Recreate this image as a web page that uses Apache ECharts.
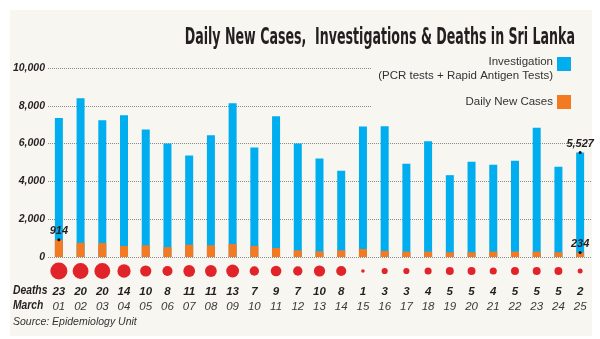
<!DOCTYPE html>
<html>
<head>
<meta charset="utf-8">
<script src="https://cdn.jsdelivr.net/npm/echarts@6/dist/echarts.min.js"></script>
<style>
  html, body { margin: 0; padding: 0; background: #ffffff; }
  #chart { width: 600px; height: 339px; }
</style>
</head>
<body>
<div id="chart"></div>
<script>
// March days
const days = ['01','02','03','04','05','06','07','08','09','10','11','12','13',
              '14','15','16','17','18','19','20','21','22','23','24','25'];
// PCR + rapid antigen tests per day
const investigations = [7350, 8400, 7230, 7500, 6750, 6000, 5370, 6440, 8140, 5800,
                        7450, 6000, 5210, 4570, 6900, 6920, 4930, 6120, 4330, 5040,
                        4880, 5090, 6840, 4770, 5527];
// Daily new cases
const newCases = [914, 750, 740, 580, 620, 520, 650, 620, 690, 585,
                  480, 355, 300, 355, 425, 320, 285, 285, 250, 250,
                  285, 285, 285, 250, 234];
// Deaths per day
const deaths = [23, 20, 20, 14, 10, 8, 11, 11, 13, 7, 9, 7, 10, 8, 1,
                3, 3, 4, 5, 5, 4, 5, 5, 5, 2];
const yTicks = [0, 2000, 4000, 6000, 8000, 10000];

// Values called out on the chart: [day index, which series]
const callouts = [[0, 'cases'], [24, 'tests'], [24, 'cases']];

const BLUE = '#00adef';
const ORANGE = '#f37a21';
const RED = '#e1232a';
const PANEL = '#f8f6f1';
const INK = '#231f20';
const FONT = 'Liberation Sans, Arial, sans-serif';

const chart = echarts.init(document.getElementById('chart'), null, { renderer: 'canvas' });

const calloutData = callouts.map(([i, s]) => [i, s === 'cases' ? newCases[i] : investigations[i]]);

chart.setOption({
  animation: false,
  backgroundColor: '#ffffff',
  grid: [
    { left: 48, right: 9, top: 68, bottom: 82 },
    { left: 48, right: 9, top: 262, height: 18 }
  ],
  xAxis: [
    {
      type: 'category', gridIndex: 0, data: days,
      axisLine: { show: false }, axisTick: { show: false }, axisLabel: { show: false }
    },
    {
      type: 'category', gridIndex: 1, data: days, position: 'bottom',
      axisLine: { show: false }, axisTick: { show: false },
      axisLabel: {
        interval: 0, margin: 4,
        formatter: (v, i) => '{d|' + deaths[i] + '}\n{m|' + v + '}',
        rich: {
          d: { fontFamily: FONT, fontSize: 11.5, fontWeight: 'bold', fontStyle: 'italic', color: INK, lineHeight: 15 },
          m: { fontFamily: FONT, fontSize: 11.5, fontStyle: 'italic', color: '#3a3a3a', lineHeight: 15 }
        }
      }
    }
  ],
  yAxis: [
    {
      type: 'value', gridIndex: 0, min: 0, max: 10000, interval: 2000,
      axisLine: { show: false }, axisTick: { show: false },
      axisLabel: {
        margin: 3,
        formatter: v => yTicks.includes(v) ? v.toLocaleString('en-US') : '',
        fontFamily: FONT, fontSize: 10.5, fontWeight: 'bold', fontStyle: 'italic', color: INK
      },
      splitLine: { lineStyle: { color: '#8a8a8a', type: [1, 1], width: 1 } }
    },
    { type: 'value', gridIndex: 1, min: -1, max: 1, show: false }
  ],
  series: [
    {
      name: 'Investigation', type: 'bar', xAxisIndex: 0, yAxisIndex: 0,
      data: investigations, barWidth: 8, barGap: '-100%',
      itemStyle: { color: BLUE }
    },
    {
      name: 'Daily New Cases', type: 'bar', xAxisIndex: 0, yAxisIndex: 0,
      data: newCases, barWidth: 8, barGap: '-100%',
      itemStyle: { color: ORANGE }
    },
    {
      name: 'callouts', type: 'scatter', xAxisIndex: 0, yAxisIndex: 0,
      data: calloutData, symbolSize: 3, itemStyle: { color: '#111', opacity: 1 }, z: 5,
      label: {
        show: true, position: 'top', distance: 2,
        formatter: p => p.value[1].toLocaleString('en-US'),
        fontFamily: FONT, fontSize: 11, fontWeight: 'bold', fontStyle: 'italic', color: INK
      }
    },
    {
      name: 'Deaths', type: 'scatter', xAxisIndex: 1, yAxisIndex: 1,
      data: deaths.map((d, i) => [i, 0, d]),
      symbolSize: v => Math.sqrt(v[2]) * 3.55,
      itemStyle: { color: RED, opacity: 1 }
    }
  ],
  graphic: [
    { type: 'rect', z: -10, shape: { x: 10, y: 10, width: 582, height: 326 }, style: { fill: PANEL } },
    // keep the legend block clear of the upper gridlines
    { type: 'rect', z: 10, shape: { x: 372, y: 60, width: 220, height: 50 }, style: { fill: PANEL } },
    {
      type: 'text', z: 20, x: 575, y: 38, scaleX: 0.61,
      style: {
        text: 'Daily New Cases,  Investigations & Deaths in Sri Lanka',
        textAlign: 'right', textVerticalAlign: 'middle',
        font: 'bold 23px "DejaVu Sans Condensed", "DejaVu Sans", sans-serif', fill: INK
      }
    },
    {
      type: 'text', z: 20, x: 553, y: 62,
      style: { text: 'Investigation', textAlign: 'right', textVerticalAlign: 'middle',
               font: '11.5px ' + FONT, fill: '#333' }
    },
    {
      type: 'text', z: 20, x: 553, y: 76,
      style: { text: '(PCR tests + Rapid Antigen Tests)', textAlign: 'right', textVerticalAlign: 'middle',
               font: '11.5px ' + FONT, fill: '#333' }
    },
    { type: 'rect', z: 20, shape: { x: 557, y: 57, width: 14, height: 14 }, style: { fill: BLUE } },
    {
      type: 'text', z: 20, x: 553, y: 102,
      style: { text: 'Daily New Cases', textAlign: 'right', textVerticalAlign: 'middle',
               font: '11.5px ' + FONT, fill: '#333' }
    },
    { type: 'rect', z: 20, shape: { x: 557, y: 95, width: 14, height: 14 }, style: { fill: ORANGE } },
    {
      type: 'text', z: 20, x: 13, y: 291, scaleX: 0.86,
      style: { text: 'Deaths', textVerticalAlign: 'middle',
               font: 'italic bold 12px ' + FONT, fill: INK }
    },
    {
      type: 'text', z: 20, x: 13, y: 306, scaleX: 0.86,
      style: { text: 'March', textVerticalAlign: 'middle',
               font: 'italic bold 12px ' + FONT, fill: INK }
    },
    {
      type: 'text', z: 20, x: 13, y: 322,
      style: { text: 'Source: Epidemiology Unit', textVerticalAlign: 'middle',
               font: 'italic 10.5px ' + FONT, fill: '#333' }
    }
  ]
});
</script>
</body>
</html>
